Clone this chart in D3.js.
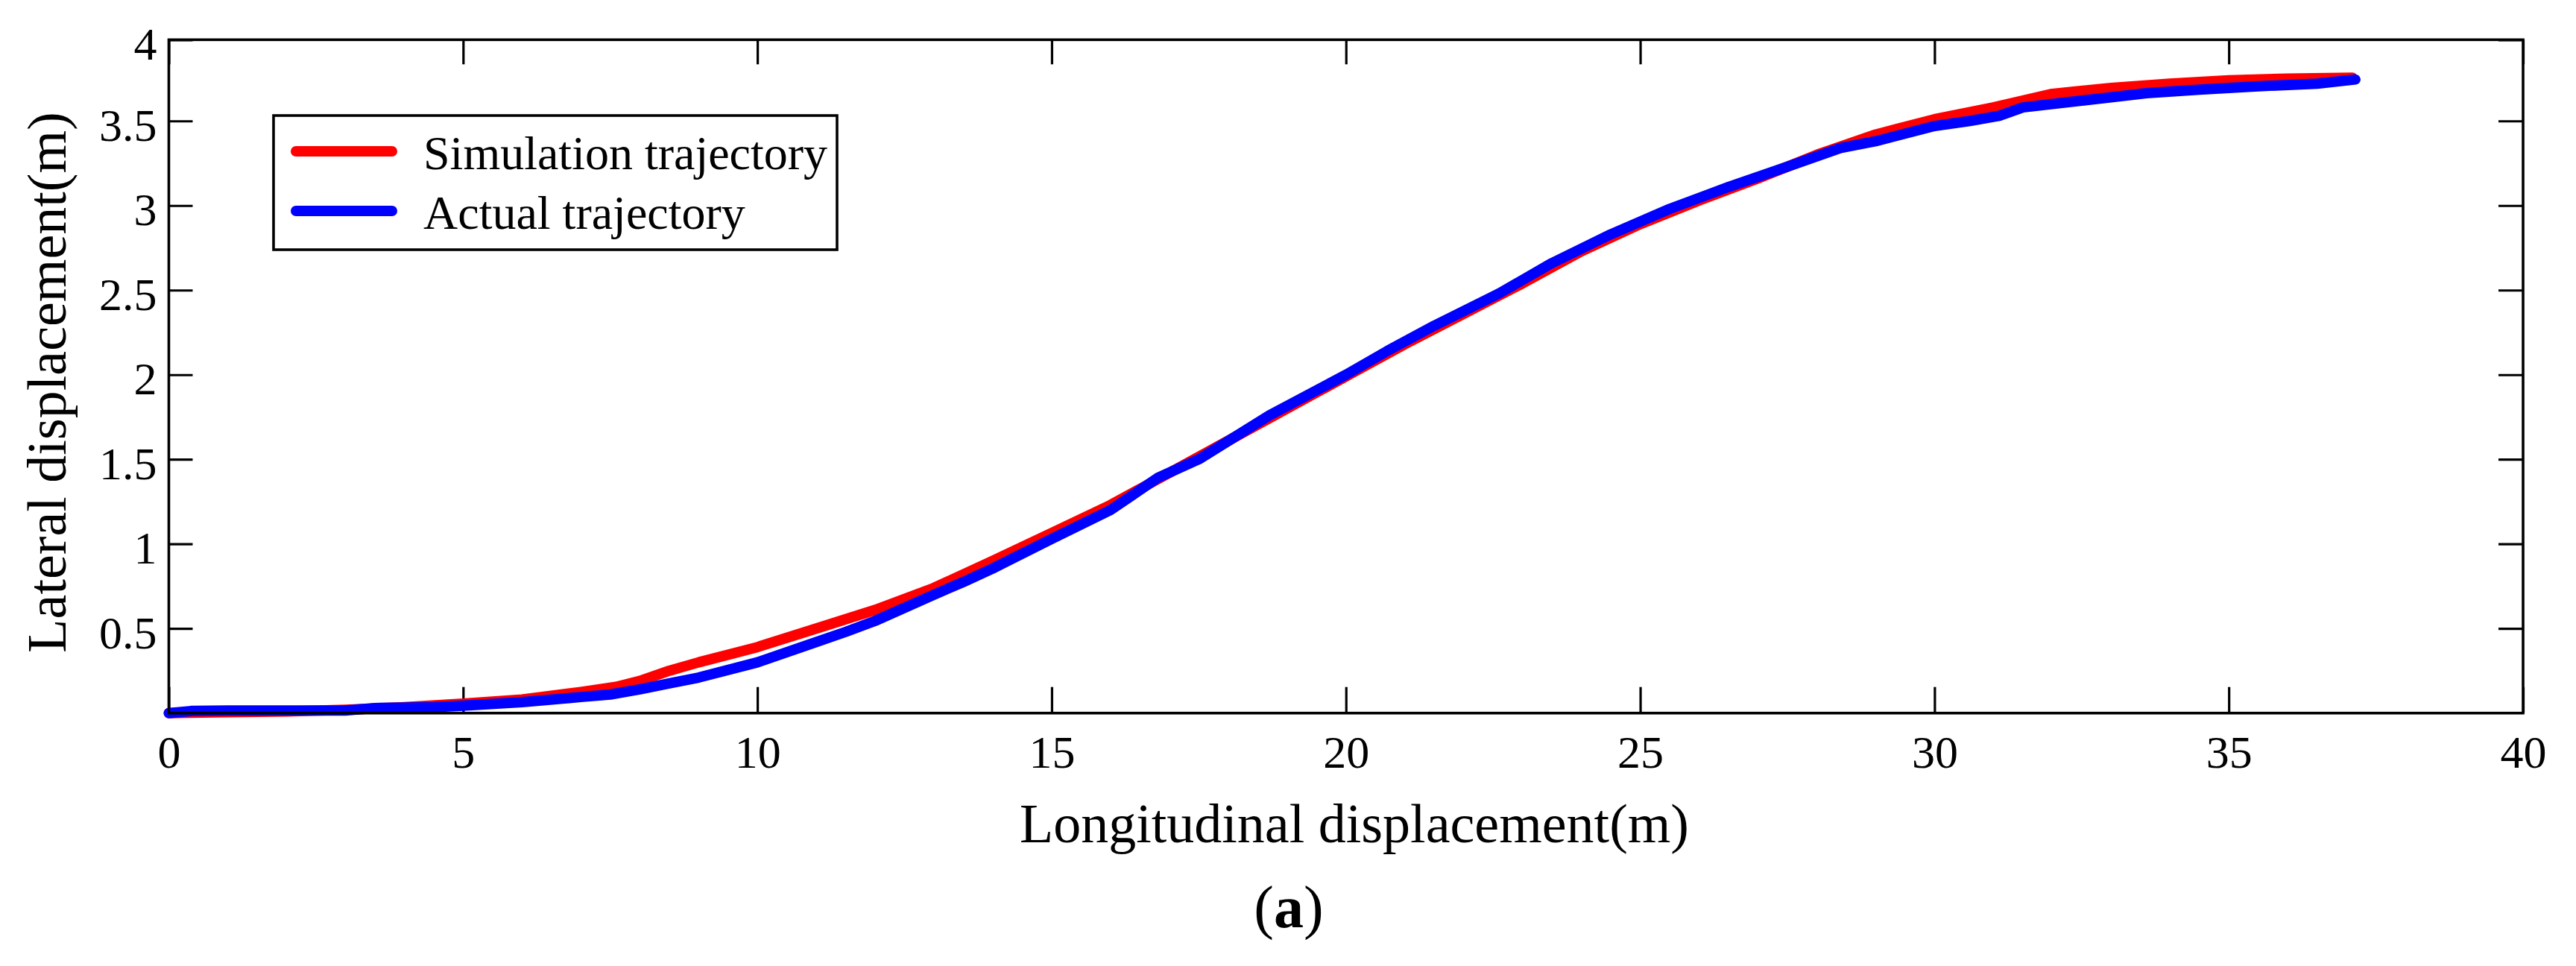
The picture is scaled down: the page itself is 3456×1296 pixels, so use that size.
<!DOCTYPE html>
<html>
<head>
<meta charset="utf-8">
<script src="https://cdn.jsdelivr.net/npm/d3@7"></script>
<style>
  html, body { margin: 0; padding: 0; background: #fff; }
  svg { display: block; }
  text { font-family: "Liberation Serif", "Times New Roman", serif; fill: #000; }
</style>
</head>
<body>
<svg id="chart" width="3456" height="1296"></svg>
<script>
// ---- data ----
const simX = [0, 1, 2, 3, 4, 5, 6, 7, 7.6, 8, 8.5, 9, 10, 11, 12, 13, 14, 15, 16, 17, 18, 19, 20, 21, 22, 23, 24, 25, 26, 27, 28, 29, 30, 31, 32, 33, 34, 35, 36, 37.1];
const simY = [0, 0.005, 0.01, 0.02, 0.035, 0.056, 0.08, 0.125, 0.155, 0.19, 0.25, 0.3, 0.39, 0.5, 0.61, 0.74, 0.9, 1.065, 1.23, 1.42, 1.61, 1.8, 1.99, 2.18, 2.36, 2.54, 2.73, 2.89, 3.03, 3.16, 3.3, 3.42, 3.51, 3.58, 3.66, 3.695, 3.72, 3.74, 3.75, 3.755];

const actX = [0, 0.4, 1, 2, 3, 3.5, 4.5, 5, 6, 7, 7.5, 8, 8.5, 9, 10, 11, 11.5, 12, 13, 13.5, 14, 15, 16, 16.8, 17.5, 18.7, 20, 20.7, 21.5, 22.6, 23.5, 24.5, 25.5, 26.5, 27.5, 28.4, 29, 30, 30.6, 31.1, 31.5, 32, 32.5, 33, 33.6, 34.5, 35.5, 36.5, 37.15];
const actY = [0, 0.013, 0.015, 0.015, 0.015, 0.03, 0.035, 0.044, 0.065, 0.095, 0.11, 0.14, 0.175, 0.21, 0.3, 0.42, 0.48, 0.545, 0.7, 0.775, 0.855, 1.03, 1.2, 1.39, 1.5, 1.76, 2.0, 2.14, 2.29, 2.48, 2.66, 2.83, 2.98, 3.11, 3.23, 3.34, 3.38, 3.47, 3.5, 3.53, 3.58, 3.6, 3.62, 3.64, 3.664, 3.685, 3.705, 3.72, 3.745];

const xTickValues = [0, 5, 10, 15, 20, 25, 30, 35, 40];
const yTickValues = [0.5, 1, 1.5, 2, 2.5, 3, 3.5, 4];
const seriesNames = ["Simulation trajectory", "Actual trajectory"];
const seriesColors = ["#ff0000", "#0000ff"];
const xTitle = "Longitudinal displacement(m)";
const yTitle = "Lateral displacement(m)";

// ---- layout ----
const L = 226.5, R = 3385, T = 53.3, B = 956.7;
const svg = d3.select("#chart");

const x = d3.scaleLinear().domain([0, 40]).range([L, R]);
const y = d3.scaleLinear().domain([0, 3.98]).range([B, T]).clamp(true);

// axes (ticks inward)
const fmt = d => String(d);
const gx = svg.append("g").attr("transform", `translate(0,${B})`)
  .call(d3.axisBottom(x).tickValues(xTickValues).tickSize(-35).tickPadding(29).tickFormat(fmt));
const gxTop = svg.append("g").attr("transform", `translate(0,${T})`)
  .call(d3.axisTop(x).tickValues(xTickValues).tickSize(-33).tickFormat(""));
const gy = svg.append("g").attr("transform", `translate(${L},0)`)
  .call(d3.axisLeft(y).tickValues(yTickValues).tickSize(-32).tickPadding(16).tickFormat(fmt));
const gyR = svg.append("g").attr("transform", `translate(${R},0)`)
  .call(d3.axisRight(y).tickValues(yTickValues).tickSize(-33).tickFormat(""));

[gx, gxTop, gy, gyR].forEach(g => {
  g.select(".domain").remove();
  g.selectAll(".tick line").attr("stroke", "#000").attr("stroke-width", 3.2);
  g.selectAll(".tick text").attr("font-size", 62).attr("font-family", "Liberation Serif, Times New Roman, serif").attr("fill", "#000");
});
gy.selectAll(".tick text").attr("dy", "0.42em");

// data lines
const line = d3.line().x(d => x(d[0])).y(d => y(d[1]));
const series = [
  d3.zip(simX, simY),
  d3.zip(actX, actY)
];
series.forEach((s, i) => {
  svg.append("path").datum(s)
    .attr("d", line)
    .attr("fill", "none")
    .attr("stroke", seriesColors[i])
    .attr("stroke-width", 14)
    .attr("stroke-linecap", "round")
    .attr("stroke-linejoin", "round");
});

// plot box
svg.append("rect")
  .attr("x", L).attr("y", T).attr("width", R - L).attr("height", B - T)
  .attr("fill", "none").attr("stroke", "#000").attr("stroke-width", 3.6);

// legend
const lg = svg.append("g");
lg.append("rect").attr("x", 367).attr("y", 155).attr("width", 756).attr("height", 180)
  .attr("fill", "#fff").attr("stroke", "#000").attr("stroke-width", 3.6);
seriesNames.forEach((name, i) => {
  const cy = 203 + i * 80;
  lg.append("line").attr("x1", 397).attr("x2", 526).attr("y1", cy).attr("y2", cy)
    .attr("stroke", seriesColors[i]).attr("stroke-width", 14).attr("stroke-linecap", "round");
  lg.append("text").attr("x", 568).attr("y", cy + 24).attr("font-size", 64).text(name);
});

// axis titles
svg.append("text").attr("x", 1817).attr("y", 1130).attr("text-anchor", "middle")
  .attr("font-size", 74).text(xTitle);
svg.append("text").attr("transform", "translate(88,513) rotate(-90)").attr("text-anchor", "middle")
  .attr("font-size", 74).text(yTitle);

// panel label
const cap = svg.append("text").attr("x", 1729).attr("y", 1244).attr("text-anchor", "middle").attr("font-size", 80);
cap.append("tspan").text("(");
cap.append("tspan").attr("font-weight", "bold").text("a");
cap.append("tspan").text(")");
</script>
</body>
</html>
